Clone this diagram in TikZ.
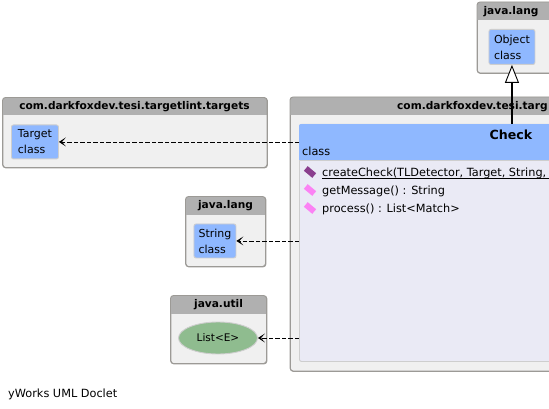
\documentclass[tikz,border=0pt]{standalone}
\usepackage{fontspec}
\setmainfont{DejaVu Sans}
\usetikzlibrary{arrows.meta,shapes.geometric}
\definecolor{pkgBack}{HTML}{F0F0F0}
\definecolor{pkgHead}{HTML}{B0B0B0}
\definecolor{pkgLine}{HTML}{9C9A96}
\definecolor{classBlue}{HTML}{8FB8FF}
\definecolor{classBody}{HTML}{EAEAF5}
\definecolor{enumGreen}{HTML}{8FBC8F}
\definecolor{methodPink}{HTML}{FB82F4}
\definecolor{staticPurple}{HTML}{8A3E8E}
\tikzset{
    pkgbox/.style={draw=pkgLine,fill=pkgBack,line width=0.9pt,rounded corners=3pt,inner sep=0pt,anchor=north west},
    pkgtitle/.style={font=\fontsize{10.6}{12}\selectfont\bfseries,inner sep=0pt},
    classbox/.style={draw=pkgBack!70!gray,fill=classBlue,line width=0.9pt,rounded corners=2pt,anchor=north west,inner sep=0pt,align=left,font=\fontsize{11}{16}\selectfont},
    depends/.style={line width=0.8pt,dash pattern=on 4.5pt off 2pt,-{Stealth[length=7pt,width=9pt,inset=4pt]}},
    methodicon/.style={line width=0pt,inner sep=0pt,minimum width=11pt,minimum height=6pt,rotate=-40},
    methodtext/.style={font=\fontsize{11.3}{13}\selectfont,anchor=base west,inner sep=0pt}
}
\begin{document}
\begin{tikzpicture}[x=1pt,y=-1pt]
    \useasboundingbox (0,0) rectangle (549,409);
    \clip (0,0) rectangle (549,409);
    \def\headHeight{18}

    \foreach \name/\x/\y/\w/\h in {pkgObject/477/2/140/71,pkgMain/290/97/446/274,pkgTarget/2.5/97.5/264.5/70,pkgString/185.5/196.5/80/70,pkgUtil/170.5/295.5/96/68} {
            \node (\name) [pkgbox,minimum width=\w pt,minimum height=\h pt] at (\x,\y) {};
            \begin{scope}
                \clip[rounded corners=3pt] (\x,\y) rectangle ++(\w,\h);
                \fill[pkgHead] (\x,\y) rectangle ++(\w,\headHeight);
            \end{scope}
            \draw[pkgLine,line width=0.9pt,rounded corners=3pt] (\x,\y) rectangle ++(\w,\h);
        }

    \node [pkgtitle] at (511,11.5) {java.lang};
    \node [pkgtitle,anchor=base west] at (397,110) {com.darkfoxdev.tesi.targ};
    \node [pkgtitle] at (134.5,106.5) {com.darkfoxdev.tesi.targetlint.targets};
    \node [pkgtitle] at (225.5,205.5) {java.lang};
    \node [pkgtitle] at (218.5,304.5) {java.util};

    \node (classObject) [classbox,minimum width=46pt,minimum height=35pt] at (488.5,29) {Object\\class};
    \node (classTarget) [classbox,minimum width=47pt,minimum height=34pt] at (11,124.5) {Target\\class};
    \node (classString) [classbox,minimum width=42pt,minimum height=34pt] at (193.5,223.5) {String\\class};
    \node (classList) [draw=pkgBack!70!gray,fill=enumGreen,ellipse,line width=0.9pt,minimum width=79pt,minimum height=32pt,inner sep=0pt,font=\fontsize{10.5}{12}\selectfont] at (218,338) {List<E>};

    \node (classCheck) [draw=pkgBack!70!gray,fill=classBody,line width=0.9pt,rounded corners=2pt,anchor=north west,minimum width=425pt,minimum height=237pt,inner sep=0pt] at (299,124) {};
    \begin{scope}
        \clip[rounded corners=2pt] (299,124) rectangle ++(425,237);
        \fill[classBlue] (299,124) rectangle (724,160);
    \end{scope}
    \draw[pkgBack!70!gray,line width=0.9pt] (299,160) -- (549,160);
    \node (titleCheck) [font=\fontsize{12.6}{14}\selectfont\bfseries,inner sep=0pt] at (511,135) {Check};
    \node (stereoCheck) [methodtext] at (302,156) {class};

    \foreach \name/\y/\txt/\col in {A/176/createCheck(TLDetector{,} Target{,} String{,}/staticPurple,B/194/getMessage() : String/methodPink,C/212/process() : List<Match>/methodPink} {
            \node (icon\name) [methodicon,fill=\col] at (310,\y-4) {};
            \node (method\name) [methodtext] at (322,\y) {\txt};
        }
    \draw[line width=0.8pt] (methodA.base west)++(0,2) -- (549,178);

    \node (docletLabel) [methodtext] at (8,397) {yWorks UML Doclet};

    \coordinate (fromTarget) at (classCheck.west |- classTarget.east);
    \coordinate (fromString) at (classCheck.west |- classString.east);
    \coordinate (fromList) at (classCheck.west |- classList.east);
    \draw [depends] (fromTarget) -- (classTarget.east);
    \draw [depends] (fromString) -- (classString.east);
    \draw [depends] (fromList) -- (classList.east);

    \draw [line width=1.4pt,-{Triangle[open,fill=white,length=18pt,width=14pt,line width=0.9pt]}] (classCheck.north -| classObject.south) -- (classObject.south);
\end{tikzpicture}
\end{document}
